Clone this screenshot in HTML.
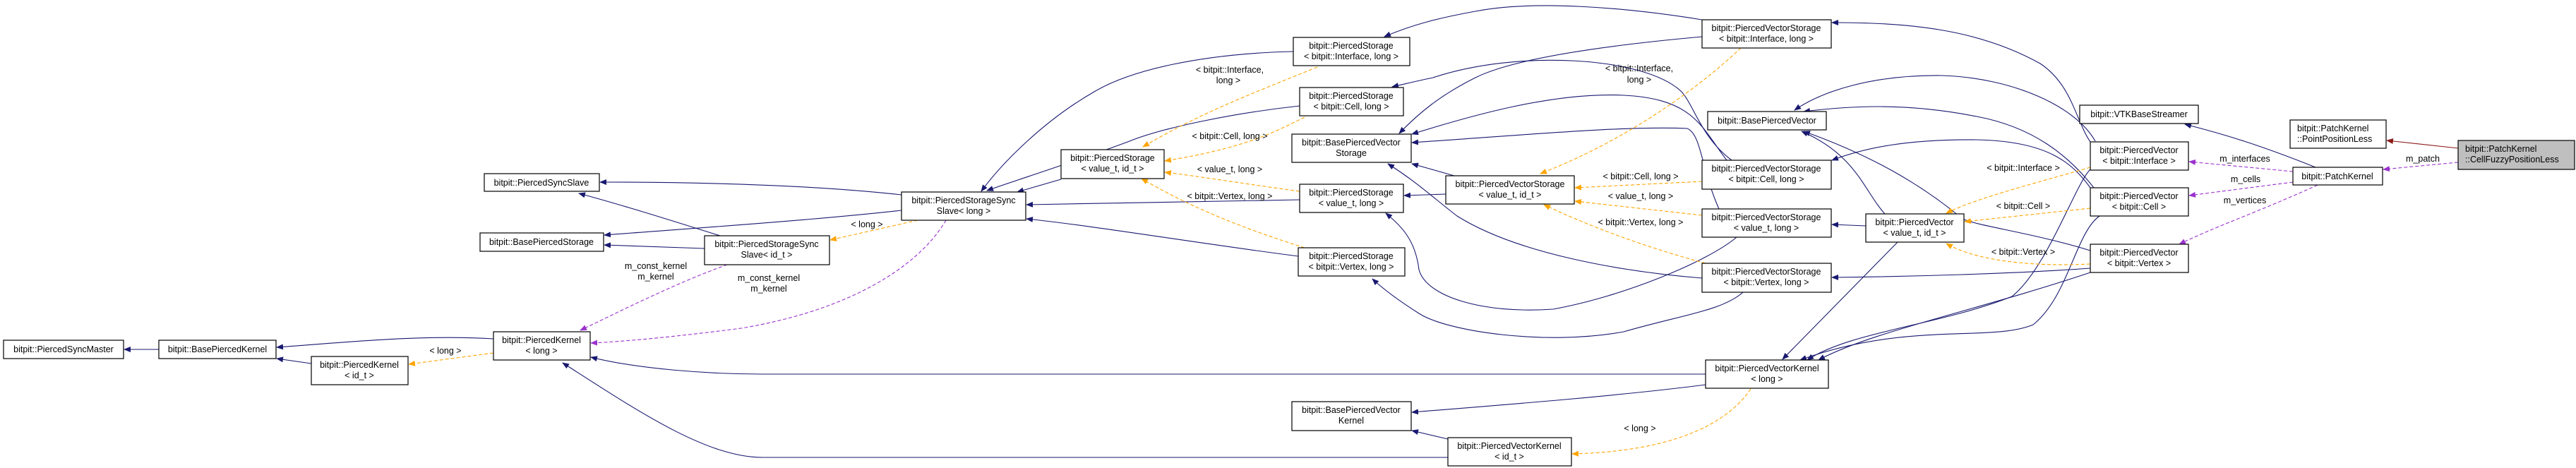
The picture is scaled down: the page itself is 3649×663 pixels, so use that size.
<!DOCTYPE html>
<html><head><meta charset="utf-8"><style>
html,body{margin:0;padding:0;background:#fff;}
svg{display:block;}
text{font-family:"Liberation Sans",sans-serif;font-size:12.5px;fill:#000;}
.b{fill:#fff;stroke:#000;stroke-width:1.2;}
.n{fill:none;stroke:#191970;stroke-width:1.1;}
.o{fill:none;stroke:#ffa500;stroke-width:1.1;stroke-dasharray:5,3;}
.p{fill:none;stroke:#9a32cd;stroke-width:1.1;stroke-dasharray:5,3;}
.r{fill:none;stroke:#8b1a1a;stroke-width:1.1;}
</style></head><body>
<svg width="3649" height="663" viewBox="0 0 3649 663" xmlns="http://www.w3.org/2000/svg">
<defs>
<marker id="mn" markerWidth="10" markerHeight="8" refX="9" refY="4" orient="auto" markerUnits="userSpaceOnUse"><path d="M0,0 L10,4 L0,8 z" fill="#191970"/></marker>
<marker id="mo" markerWidth="10" markerHeight="8" refX="9" refY="4" orient="auto" markerUnits="userSpaceOnUse"><path d="M0,0 L10,4 L0,8 z" fill="#ffa500"/></marker>
<marker id="mp" markerWidth="10" markerHeight="8" refX="9" refY="4" orient="auto" markerUnits="userSpaceOnUse"><path d="M0,0 L10,4 L0,8 z" fill="#9a32cd"/></marker>
<marker id="mr" markerWidth="10" markerHeight="8" refX="9" refY="4" orient="auto" markerUnits="userSpaceOnUse"><path d="M0,0 L10,4 L0,8 z" fill="#8b1a1a"/></marker>
</defs>

<!-- navy edges -->
<g marker-end="url(#mn)">
<path class="n" d="M225,495 L176,495"/>
<path class="n" d="M699,480 C600,474 500,484 392,492"/>
<path class="n" d="M441,515 L392,508"/>
<path class="n" d="M1277,276 C1150,262 1000,258 850,258"/>
<path class="n" d="M1020,334 C950,312 880,290 820,274"/>
<path class="n" d="M1277,298 C1150,312 1000,322 856,333"/>
<path class="n" d="M998,352 L856,347"/>
<path class="n" d="M2416,530 L1080,530 C1000,530 900,522 837,506"/>
<path class="n" d="M2051,648 L1080,648 C1000,648 900,580 797,514"/>
<path class="n" d="M2051,622 L2000,610"/>
<path class="n" d="M2416,545 C2300,560 2150,572 2000,584"/>
<path class="n" d="M1503,254 L1441,272"/>
<path class="n" d="M1832,73 C1700,76 1600,100 1550,130 C1480,170 1420,230 1390,271"/>
<path class="n" d="M1841,150 C1750,160 1650,180 1600,200 C1520,230 1440,255 1398,270"/>
<path class="n" d="M1841,283 L1454,290"/>
<path class="n" d="M1839,363 C1700,345 1550,320 1454,310"/>
<path class="n" d="M2411,28 C2300,10 2172,0 2090,16 C2040,25 2000,35 1961,52"/>
<path class="n" d="M2411,52 C2300,62 2150,80 2090,110 C2040,135 2010,160 1982,189"/>
<path class="n" d="M2453,227 C2410,195 2400,150 2382,130 C2330,80 2150,70 2030,110 C2010,114 1990,119 1972,123"/>
<path class="n" d="M2446,227 C2410,180 2400,140 2300,135 C2200,130 2080,165 2000,190"/>
<path class="n" d="M2435,296 C2410,240 2410,190 2390,182 C2300,178 2150,192 2000,202"/>
<path class="n" d="M2060,249 L2000,232"/>
<path class="n" d="M2048,275 L1989,277"/>
<path class="n" d="M2469,414 C2440,440 2383,446 2300,470 C2191,490 2050,470 2010,444 C1980,425 1960,410 1944,395"/>
<path class="n" d="M2460,336 C2420,370 2300,420 2200,438 C2100,445 2020,420 2010,382 C2005,340 1985,320 1963,302"/>
<path class="n" d="M2411,394 C2300,385 2150,360 2064,306 C2030,280 2010,260 1966,232"/>
<path class="n" d="M2643,320 L2595,318"/>
<path class="n" d="M2670,303 C2640,270 2630,220 2552,186"/>
<path class="n" d="M2688,343 L2525,509"/>
<path class="n" d="M2961,201 C2940,170 2935,120 2890,90 C2800,40 2700,32 2595,32"/>
<path class="n" d="M2968,200 C2940,150 2850,110 2750,107 C2650,106 2580,130 2542,156"/>
<path class="n" d="M2966,266 C2930,220 2880,180 2800,165 C2700,145 2620,150 2555,158"/>
<path class="n" d="M2961,266 C2935,230 2900,200 2800,198 C2700,197 2640,210 2595,227"/>
<path class="n" d="M2961,355 C2880,330 2800,320 2780,310 C2720,260 2650,220 2555,186"/>
<path class="n" d="M2961,380 C2850,388 2700,392 2595,393"/>
<path class="n" d="M2961,240 C2940,260 2900,380 2850,420 C2750,460 2620,470 2560,510"/>
<path class="n" d="M2974,306 C2940,330 2930,420 2880,460 C2820,485 2700,455 2550,510"/>
<path class="n" d="M2961,386 C2800,440 2650,470 2576,510"/>
<path class="n" d="M3280,237 C3200,205 3150,190 3095,176"/>
</g>

<!-- orange dashed -->
<g marker-end="url(#mo)">
<path class="o" d="M699,500 L579,516"/>
<path class="o" d="M1300,312 L1176,340"/>
<path class="o" d="M1866,95 C1780,130 1700,160 1619,208"/>
<path class="o" d="M1848,166 C1800,190 1760,210 1650,228"/>
<path class="o" d="M1841,271 C1760,260 1700,250 1650,244"/>
<path class="o" d="M1848,351 C1750,320 1680,290 1617,253"/>
<path class="o" d="M2466,68 C2400,130 2300,200 2182,246"/>
<path class="o" d="M2411,257 L2231,266"/>
<path class="o" d="M2411,305 L2231,285"/>
<path class="o" d="M2416,373 C2330,350 2250,320 2187,290"/>
<path class="o" d="M2961,237 C2900,255 2800,280 2757,302"/>
<path class="o" d="M2961,295 L2783,314"/>
<path class="o" d="M2961,374 C2880,378 2800,370 2757,345"/>
<path class="o" d="M2480,551 C2440,610 2350,640 2227,643"/>
</g>

<!-- purple dashed -->
<g marker-end="url(#mp)">
<path class="p" d="M1030,375 C960,400 880,440 822,468"/>
<path class="p" d="M1340,312 C1300,380 1200,440 1050,465 C950,478 880,484 837,486"/>
<path class="p" d="M3248,243 L3101,229"/>
<path class="p" d="M3248,258 L3101,277"/>
<path class="p" d="M3283,262 C3200,300 3140,320 3087,346"/>
<path class="p" d="M3482,230 L3376,240"/>
</g>
<path class="r" d="M3482,210 L3381,199" marker-end="url(#mr)"/>

<!-- boxes -->
<g>
<rect class="b" x="5" y="482" width="170" height="26"/><text x="90" y="499" text-anchor="middle">bitpit::PiercedSyncMaster</text>
<rect class="b" x="225" y="482" width="166" height="26"/><text x="308" y="499" text-anchor="middle">bitpit::BasePiercedKernel</text>
<rect class="b" x="441" y="505" width="137" height="40"/><text x="509" y="521" text-anchor="middle">bitpit::PiercedKernel</text><text x="509" y="536" text-anchor="middle">&lt; id_t &gt;</text>
<rect class="b" x="699" y="470" width="137" height="40"/><text x="767" y="486" text-anchor="middle">bitpit::PiercedKernel</text><text x="767" y="501" text-anchor="middle">&lt; long &gt;</text>
<rect class="b" x="686" y="246" width="163" height="25"/><text x="767" y="263" text-anchor="middle">bitpit::PiercedSyncSlave</text>
<rect class="b" x="680" y="330" width="175" height="26"/><text x="767" y="347" text-anchor="middle">bitpit::BasePiercedStorage</text>
<rect class="b" x="998" y="334" width="177" height="41"/><text x="1086" y="350" text-anchor="middle">bitpit::PiercedStorageSync</text><text x="1086" y="365" text-anchor="middle">Slave&lt; id_t &gt;</text>
<rect class="b" x="1277" y="272" width="176" height="40"/><text x="1365" y="288" text-anchor="middle">bitpit::PiercedStorageSync</text><text x="1365" y="303" text-anchor="middle">Slave&lt; long &gt;</text>
<rect class="b" x="1503" y="212" width="146" height="41"/><text x="1576" y="228" text-anchor="middle">bitpit::PiercedStorage</text><text x="1576" y="243" text-anchor="middle">&lt; value_t, id_t &gt;</text>
<rect class="b" x="1832" y="53" width="165" height="40"/><text x="1914" y="69" text-anchor="middle">bitpit::PiercedStorage</text><text x="1914" y="84" text-anchor="middle">&lt; bitpit::Interface, long &gt;</text>
<rect class="b" x="1841" y="124" width="147" height="40"/><text x="1914" y="140" text-anchor="middle">bitpit::PiercedStorage</text><text x="1914" y="155" text-anchor="middle">&lt; bitpit::Cell, long &gt;</text>
<rect class="b" x="1830" y="190" width="169" height="40"/><text x="1914" y="206" text-anchor="middle">bitpit::BasePiercedVector</text><text x="1914" y="221" text-anchor="middle">Storage</text>
<rect class="b" x="1841" y="261" width="147" height="40"/><text x="1914" y="277" text-anchor="middle">bitpit::PiercedStorage</text><text x="1914" y="292" text-anchor="middle">&lt; value_t, long &gt;</text>
<rect class="b" x="1839" y="351" width="151" height="40"/><text x="1914" y="367" text-anchor="middle">bitpit::PiercedStorage</text><text x="1914" y="382" text-anchor="middle">&lt; bitpit::Vertex, long &gt;</text>
<rect class="b" x="1830" y="569" width="169" height="41"/><text x="1914" y="585" text-anchor="middle">bitpit::BasePiercedVector</text><text x="1914" y="600" text-anchor="middle">Kernel</text>
<rect class="b" x="2411" y="28" width="183" height="40"/><text x="2502" y="44" text-anchor="middle">bitpit::PiercedVectorStorage</text><text x="2502" y="59" text-anchor="middle">&lt; bitpit::Interface, long &gt;</text>
<rect class="b" x="2419" y="158" width="168" height="26"/><text x="2503" y="175" text-anchor="middle">bitpit::BasePiercedVector</text>
<rect class="b" x="2411" y="227" width="183" height="41"/><text x="2502" y="243" text-anchor="middle">bitpit::PiercedVectorStorage</text><text x="2502" y="258" text-anchor="middle">&lt; bitpit::Cell, long &gt;</text>
<rect class="b" x="2048" y="249" width="182" height="40"/><text x="2139" y="265" text-anchor="middle">bitpit::PiercedVectorStorage</text><text x="2139" y="280" text-anchor="middle">&lt; value_t, id_t &gt;</text>
<rect class="b" x="2411" y="296" width="183" height="40"/><text x="2502" y="312" text-anchor="middle">bitpit::PiercedVectorStorage</text><text x="2502" y="327" text-anchor="middle">&lt; value_t, long &gt;</text>
<rect class="b" x="2411" y="373" width="183" height="41"/><text x="2502" y="389" text-anchor="middle">bitpit::PiercedVectorStorage</text><text x="2502" y="404" text-anchor="middle">&lt; bitpit::Vertex, long &gt;</text>
<rect class="b" x="2643" y="303" width="139" height="40"/><text x="2712" y="319" text-anchor="middle">bitpit::PiercedVector</text><text x="2712" y="334" text-anchor="middle">&lt; value_t, id_t &gt;</text>
<rect class="b" x="2416" y="510" width="174" height="40"/><text x="2503" y="526" text-anchor="middle">bitpit::PiercedVectorKernel</text><text x="2503" y="541" text-anchor="middle">&lt; long &gt;</text>
<rect class="b" x="2051" y="620" width="175" height="40"/><text x="2138" y="636" text-anchor="middle">bitpit::PiercedVectorKernel</text><text x="2138" y="651" text-anchor="middle">&lt; id_t &gt;</text>
<rect class="b" x="2946" y="149" width="168" height="26"/><text x="3030" y="166" text-anchor="middle">bitpit::VTKBaseStreamer</text>
<rect class="b" x="2961" y="201" width="139" height="40"/><text x="3030" y="217" text-anchor="middle">bitpit::PiercedVector</text><text x="3030" y="232" text-anchor="middle">&lt; bitpit::Interface &gt;</text>
<rect class="b" x="2961" y="266" width="139" height="40"/><text x="3030" y="282" text-anchor="middle">bitpit::PiercedVector</text><text x="3030" y="297" text-anchor="middle">&lt; bitpit::Cell &gt;</text>
<rect class="b" x="2961" y="346" width="139" height="40"/><text x="3030" y="362" text-anchor="middle">bitpit::PiercedVector</text><text x="3030" y="377" text-anchor="middle">&lt; bitpit::Vertex &gt;</text>
<rect class="b" x="3248" y="237" width="127" height="25"/><text x="3311" y="254" text-anchor="middle">bitpit::PatchKernel</text>
<rect class="b" x="3244" y="170" width="136" height="40"/><text x="3254" y="186">bitpit::PatchKernel</text><text x="3254" y="201">::PointPositionLess</text>
<rect x="3482" y="199" width="165" height="41" fill="#bfbfbf" stroke="#000" stroke-width="1.2"/><text x="3492" y="215">bitpit::PatchKernel</text><text x="3492" y="230">::CellFuzzyPositionLess</text>
</g>

<!-- edge labels -->
<g text-anchor="middle">
<text x="631" y="501">&lt; long &gt;</text>
<text x="929" y="381">m_const_kernel</text><text x="929" y="396">m_kernel</text>
<text x="1228" y="322">&lt; long &gt;</text>
<text x="1089" y="398">m_const_kernel</text><text x="1089" y="413">m_kernel</text>
<text x="1742" y="103">&lt; bitpit::Interface,</text><text x="1740" y="118">long &gt;</text>
<text x="1742" y="197">&lt; bitpit::Cell, long &gt;</text>
<text x="1742" y="244">&lt; value_t, long &gt;</text>
<text x="1742" y="282">&lt; bitpit::Vertex, long &gt;</text>
<text x="2322" y="101">&lt; bitpit::Interface,</text><text x="2322" y="117">long &gt;</text>
<text x="2324" y="254">&lt; bitpit::Cell, long &gt;</text>
<text x="2324" y="282">&lt; value_t, long &gt;</text>
<text x="2324" y="319">&lt; bitpit::Vertex, long &gt;</text>
<text x="2323" y="611">&lt; long &gt;</text>
<text x="2866" y="242">&lt; bitpit::Interface &gt;</text>
<text x="2866" y="296">&lt; bitpit::Cell &gt;</text>
<text x="2866" y="361">&lt; bitpit::Vertex &gt;</text>
<text x="3180" y="229">m_interfaces</text>
<text x="3181" y="258">m_cells</text>
<text x="3180" y="288">m_vertices</text>
<text x="3432" y="229">m_patch</text>
</g>
</svg>
</body></html>
